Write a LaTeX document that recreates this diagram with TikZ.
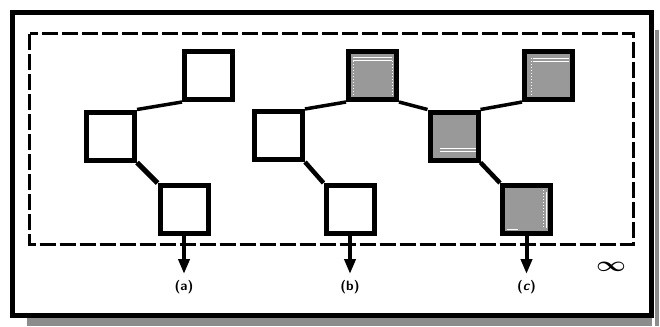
\documentclass[tikz,border=0pt]{standalone}
\usetikzlibrary{arrows.meta}
\begin{document}
\begin{tikzpicture}[x=1pt,y=-1pt,
  box/.style={draw,line width=5pt,inner sep=0pt,minimum size=48pt,fill=white},
  graybox/.style={box,fill=black!40},
  link/.style={line width=3.5pt},
  outarrow/.style={line width=4pt,-{Triangle[length=15pt,width=11pt]}},
  lbl/.style={font=\sffamily\bfseries\fontsize{13.5}{15}\selectfont,inner sep=0pt},
  glint/.style={white,line width=1pt},
  glintdot/.style={white,line width=1pt,dash pattern=on 1pt off 2pt}]
\useasboundingbox (0,0) rectangle (660,326);
% drop shadow and frames
\fill[black!45] (27,318) rectangle (652,326);
\fill[black!45] (655,30) rectangle (659,326);
\draw[line width=5pt] (12.5,13) rectangle (651.5,315.5);
\draw[line width=3pt,dash pattern=on 16pt off 4pt] (29.5,34) rectangle (633.5,244);
% squares
\node[box] (atop) at (208.5,75.5) {};
\node[box] (amid) at (110.5,136) {};
\node[box] (abot) at (184,209.5) {};
\node[box] (bmid) at (278.5,135.5) {};
\node[graybox] (btop) at (372.5,75.5) {};
\node[box] (bbot) at (350,209.5) {};
\node[graybox] (cmid) at (454,136) {};
\node[graybox] (ctop) at (548.5,75.5) {};
\node[graybox] (cbot) at (526.5,209.5) {};
% highlights inside the shaded squares
\draw[glint] (353,58) -- (392,58);
\draw[glint] (353,61) -- (392,61);
\draw[glintdot] (353,61) -- (353,96);
\draw[glintdot] (392,61) -- (392,96);
\draw[glint] (440,148) -- (476,148);
\draw[glint] (440,151) -- (476,151);
\draw[glint] (533,59) -- (569,59);
\draw[glint] (533,62) -- (569,62);
\draw[glintdot] (531,58) -- (531,96);
\draw[glintdot] (543,190) -- (543,228);
\draw[glint] (546,192) -- (546,228);
\draw[glint] (507,229) -- (518,229);
% connectors
\draw[link] (atop.south west) -- (amid.north east);
\draw[link,line width=5pt] (amid.south east) -- (abot.north west);
\draw[link] (btop.south west) -- (bmid.north east);
\draw[link,line width=4.5pt] (bmid.south east) -- (bbot.north west);
\draw[link] (btop.south east) -- (cmid.north west);
\draw[link] (cmid.north east) -- (ctop.south west);
\draw[link,line width=4.5pt] (cmid.south east) -- (cbot.north west);
% outputs
\coordinate (aout) at (184,274);
\coordinate (bout) at (350,274);
\coordinate (cout) at (526.5,274);
\draw[outarrow] (abot.south) -- (aout);
\draw[outarrow] (bbot.south) -- (bout);
\draw[outarrow] (cbot.south) -- (cout);
\node[lbl] (la) at (184,287) {(a)};
\node[lbl] (lb) at (350,287) {(b)};
\node[lbl] (lc) at (526.5,287) {(\textit{c})};
\node[inner sep=0pt] (inf) at (611,266.5) {\scalebox{2.6}[2.1]{\boldmath$\infty$}};
\end{tikzpicture}
\end{document}
